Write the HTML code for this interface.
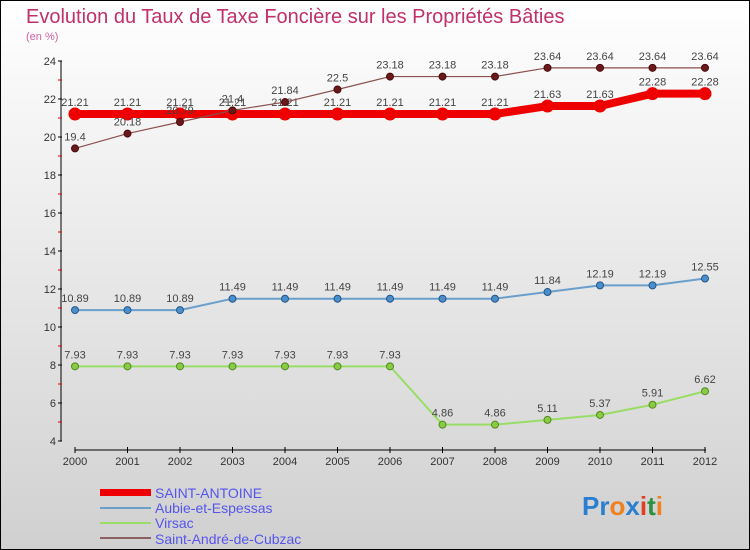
<!DOCTYPE html>
<html><head><meta charset="utf-8"><style>
body{margin:0}
#c{width:750px;height:550px;position:relative;overflow:hidden}
text{font-family:"Liberation Sans",sans-serif}
</style></head><body>
<div id="c">
<svg id="s" width="750" height="550" xmlns="http://www.w3.org/2000/svg">
<defs><linearGradient id="bg" x1="0" y1="0" x2="0" y2="1"><stop offset="0" stop-color="#ffffff"/><stop offset="1" stop-color="#d0d0d0"/></linearGradient></defs>
<rect x="0.5" y="0.5" width="749" height="549" fill="url(#bg)" stroke="#000"/>
<text x="26" y="23" font-size="20" fill="#c0306a">Evolution du Taux de Taxe Foncière sur les Propriétés Bâties</text>
<text x="26" y="40" font-size="11" fill="#d060a0">(en %)</text>
<g id="axes"></g><g id="series"></g>
<g>
<rect x="100" y="489" width="51" height="7" fill="#e00"/>
<text x="155" y="498" font-size="14" fill="#5555ee">SAINT-ANTOINE</text>
<line x1="100" y1="508" x2="151" y2="508" stroke="#6a9fcc" stroke-width="2"/>
<text x="155" y="513" font-size="14" fill="#5555ee">Aubie-et-Espessas</text>
<line x1="100" y1="523" x2="151" y2="523" stroke="#99dd66" stroke-width="2"/>
<text x="155" y="528" font-size="14" fill="#5555ee">Virsac</text>
<line x1="100" y1="538" x2="151" y2="538" stroke="#8b6060" stroke-width="2"/>
<text x="155" y="544" font-size="14" fill="#5555ee">Saint-André-de-Cubzac</text>
</g>
<text x="582" y="515" font-size="26" font-weight="bold"><tspan fill="#2a7fd0">Pr</tspan><tspan fill="#f08020">o</tspan><tspan fill="#2a7fd0">x</tspan><tspan fill="#e04020">i</tspan><tspan fill="#2a9040">t</tspan><tspan fill="#f08020">i</tspan></text>
</svg></div>
<script>
const years=[2000,2001,2002,2003,2004,2005,2006,2007,2008,2009,2010,2011,2012];
const yTicks=[4,6,8,10,12,14,16,18,20,22,24];
const saintAntoine=[21.21,21.21,21.21,21.21,21.21,21.21,21.21,21.21,21.21,21.63,21.63,22.28,22.28];
const aubie=[10.89,10.89,10.89,11.49,11.49,11.49,11.49,11.49,11.49,11.84,12.19,12.19,12.55];
const virsac=[7.93,7.93,7.93,7.93,7.93,7.93,7.93,4.86,4.86,5.11,5.37,5.91,6.62];
const saintAndre=[19.4,20.18,20.79,21.4,21.84,22.5,23.18,23.18,23.18,23.64,23.64,23.64,23.64];
const NS="http://www.w3.org/2000/svg";
const X=i=>75+i*52.5, Y=v=>441-(v-4)*19;
function mk(t,a,p){const e=document.createElementNS(NS,t);for(const k in a)e.setAttribute(k,a[k]);p.appendChild(e);return e;}
const ax=document.getElementById('axes');
mk('line',{x1:61,y1:61,x2:61,y2:441,stroke:'#000','stroke-width':1},ax);
mk('line',{x1:75,y1:450,x2:706,y2:450,stroke:'#000','stroke-width':1},ax);
yTicks.forEach(v=>{
 mk('line',{x1:58,y1:Y(v),x2:62,y2:Y(v),stroke:'#000'},ax);
 if(v<24)mk('line',{x1:58,y1:Y(v+1),x2:62,y2:Y(v+1),stroke:'#d00'},ax);
 const t=mk('text',{x:56,y:Y(v)+4,'font-size':11,fill:'#333','text-anchor':'end'},ax);
 
 
 t.textContent=v;
});
years.forEach((y,i)=>{
 mk('line',{x1:X(i),y1:447,x2:X(i),y2:453,stroke:'#000'},ax);
 const t=mk('text',{x:X(i),y:465,'font-size':11,fill:'#333','text-anchor':'middle'},ax);
 
 
 t.textContent=y;
});
const sg=document.getElementById('series');
function series(name,vals,color,w,r,dot,dotStroke){
 const g=mk('g',{},sg);
 
 
 mk('polyline',{points:vals.map((v,i)=>X(i)+','+Y(v)).join(' '),fill:'none',stroke:color,'stroke-width':w,'stroke-linejoin':'round'},g);
 vals.forEach((v,i)=>{
  const c=mk('circle',{cx:X(i),cy:Y(v),r:r,fill:dot,stroke:dotStroke,'stroke-width':1},g);
  
  
  const t=mk('text',{x:X(i),y:Y(v)-8,'font-size':11,fill:'#444','text-anchor':'middle'},g);
  
  
  t.textContent=v;
 });
}
series('series-virsac',virsac,'#99dd66',2,3.5,'#88cc44','#558822');
series('series-aubie',aubie,'#6a9fcc',2,3.5,'#4a8fcc','#225588');
series('series-saint-antoine',saintAntoine,'#e00',8,6,'#e00','#e00');
series('series-saint-andre',saintAndre,'#8b5050',1.2,3.5,'#6a1a1a','#4a0a0a');
</script>
</body></html>
